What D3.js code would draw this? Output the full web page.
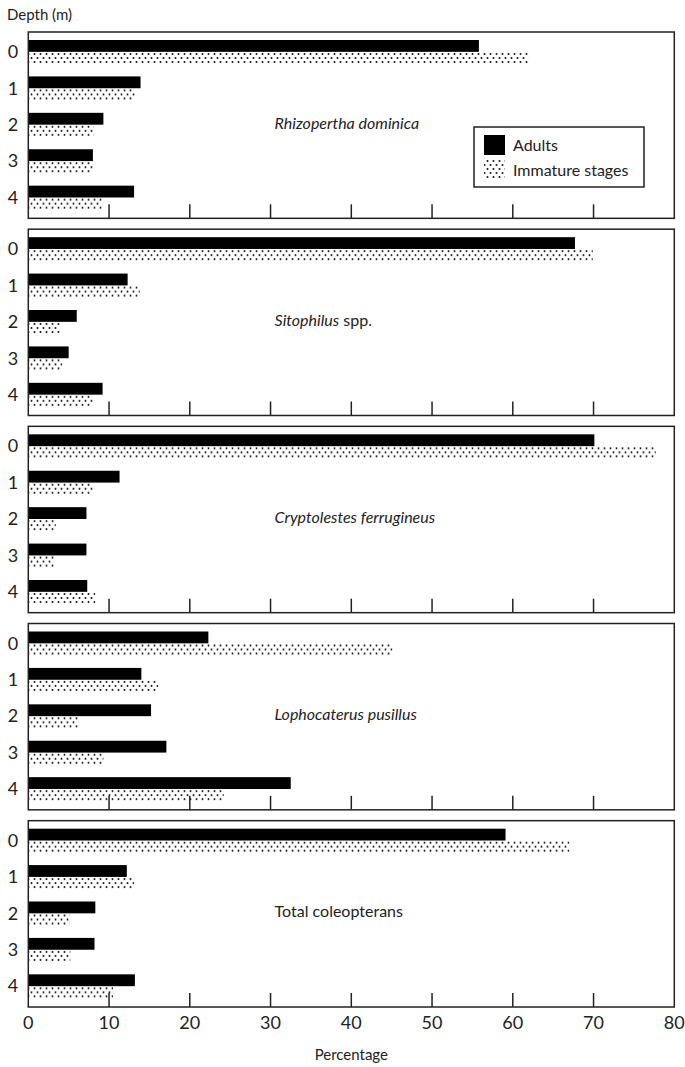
<!DOCTYPE html>
<html>
<head>
<meta charset="utf-8">
<script src="https://cdn.jsdelivr.net/npm/d3@7"></script>
<style>
    body { margin: 0; background: #fff; }
    svg { display: block; font-family: Lato, "Open Sans", sans-serif; }
</style>
</head>
<body>
<div id="chart"></div>
<script>
// depth rows, top to bottom inside each panel
const depths = ["0", "1", "2", "3", "4"];

// one panel per species; label parts are [text, italic]
const species = ["rhizopertha", "sitophilus", "cryptolestes", "lophocaterus", "total"];
const speciesLabels = [
    [["Rhizopertha dominica", true]],
    [["Sitophilus", true], [" spp.", false]],
    [["Cryptolestes ferrugineus", true]],
    [["Lophocaterus pusillus", true]],
    [["Total coleopterans", false]]
];

// percentages, depth 0..4
const adults = [
    [55.8, 13.9, 9.3, 8.0, 13.1],
    [67.7, 12.3, 6.0, 5.0, 9.2],
    [70.1, 11.3, 7.2, 7.2, 7.3],
    [22.3, 14.0, 15.2, 17.1, 32.5],
    [59.1, 12.2, 8.3, 8.2, 13.2]
];
const immature = [
    [61.9, 13.2, 8.1, 8.0, 9.1],
    [69.9, 13.8, 3.9, 4.2, 8.0],
    [77.7, 8.0, 3.4, 3.2, 8.3],
    [45.1, 16.1, 6.2, 9.3, 24.2],
    [67.0, 13.1, 5.1, 5.2, 10.5]
];

const xTicks = [0, 10, 20, 30, 40, 50, 60, 70, 80];
const seriesKeys = ["adults", "immature"];
const seriesLabels = ["Adults", "Immature stages"];

const width = 685;
const height = 1067;

const svg = d3.select("#chart")
    .append("svg")
    .attr("width", width)
    .attr("height", height);

// stipple fill for immature stages
const pattern = svg.append("defs")
    .append("pattern")
    .attr("id", "stipple")
    .attr("patternUnits", "userSpaceOnUse")
    .attr("width", 6)
    .attr("height", 8);
pattern.append("circle").attr("cx", 1.5).attr("cy", 2).attr("r", 1).attr("fill", "#111");
pattern.append("circle").attr("cx", 4.5).attr("cy", 6).attr("r", 1).attr("fill", "#111");

const fills = { adults: "#000", immature: "url(#stipple)" };

const x = d3.scaleLinear()
    .domain([0, 80])
    .range([28.3, 674.3]);

const panelY = d3.scaleBand()
    .domain(species)
    .range([32, 1007])
    .paddingInner(0.055);

svg.append("text")
    .attr("x", 7)
    .attr("y", 15)
    .attr("dy", "0.35em")
    .style("font-size", "15px")
    .attr("fill", "#222")
    .text("Depth (m)");

species.forEach((sp, i) => {
    const top = panelY(sp);
    const bottom = top + panelY.bandwidth();
    const g = svg.append("g");

    const y = d3.scaleBand()
        .domain(depths)
        .range([top + 8, bottom - 9])
        .paddingInner(0.35);

    const ySub = d3.scaleBand()
        .domain(seriesKeys)
        .range([0, y.bandwidth()]);

    const rows = depths.map((d, j) => ({ depth: d, adults: adults[i][j], immature: immature[i][j] }));

    g.append("g")
        .selectAll("g")
        .data(rows)
        .enter()
        .append("g")
        .attr("transform", d => `translate(0,${y(d.depth)})`)
        .selectAll("rect")
        .data(d => seriesKeys.map(k => ({ key: k, value: d[k] })))
        .enter()
        .append("rect")
        .attr("x", x(0))
        .attr("y", d => ySub(d.key))
        .attr("width", d => x(d.value) - x(0))
        .attr("height", ySub.bandwidth())
        .attr("fill", d => fills[d.key]);

    // depth labels
    g.selectAll(".depth")
        .data(depths)
        .enter()
        .append("text")
        .attr("x", 13)
        .attr("y", d => y(d) + y.bandwidth() / 2)
        .attr("dy", "0.35em")
        .attr("text-anchor", "middle")
        .style("font-size", "18px")
        .attr("fill", "#222")
        .text(d => d);

    // inner ticks along the bottom edge
    g.selectAll(".tick")
        .data(xTicks.slice(1, -1))
        .enter()
        .append("line")
        .attr("x1", d => x(d))
        .attr("x2", d => x(d))
        .attr("y1", bottom)
        .attr("y2", bottom - 14)
        .attr("stroke", "#222")
        .attr("stroke-width", 1.5);

    // panel frame
    g.append("rect")
        .attr("x", x(0))
        .attr("y", top)
        .attr("width", x(80) - x(0))
        .attr("height", bottom - top)
        .attr("fill", "none")
        .attr("stroke", "#222")
        .attr("stroke-width", 1.5);

    const label = g.append("text")
        .attr("x", x(30.5))
        .attr("y", top + 91)
        .attr("dy", "0.35em")
        .style("font-size", "16px")
        .attr("fill", "#222");
    speciesLabels[i].forEach(part => {
        label.append("tspan")
            .style("font-style", part[1] ? "italic" : "normal")
            .attr("xml:space", "preserve")
            .text(part[0]);
    });

    if (i === 0) {
        const legend = g.append("g")
            .attr("transform", `translate(474,${top + 95})`);

        legend.append("rect")
            .attr("width", 170)
            .attr("height", 60)
            .attr("fill", "#fff")
            .attr("stroke", "#222")
            .attr("stroke-width", 1.5);

        seriesKeys.forEach((k, j) => {
            legend.append("rect")
                .attr("x", 10)
                .attr("y", 8 + j * 24)
                .attr("width", 21)
                .attr("height", 20)
                .attr("fill", fills[k]);

            legend.append("text")
                .attr("x", 39)
                .attr("y", 18 + j * 25)
                .attr("dy", "0.35em")
                .style("font-size", "16px")
                .attr("fill", "#222")
                .text(seriesLabels[j]);
        });
    }

    if (i === species.length - 1) {
        g.selectAll(".tickLabel")
            .data(xTicks)
            .enter()
            .append("text")
            .attr("x", d => x(d))
            .attr("y", bottom + 16)
            .attr("dy", "0.35em")
            .attr("text-anchor", "middle")
            .style("font-size", "18px")
            .attr("fill", "#222")
            .text(d => d);

        g.append("text")
            .attr("x", (x(0) + x(80)) / 2)
            .attr("y", bottom + 48)
            .attr("dy", "0.35em")
            .attr("text-anchor", "middle")
            .style("font-size", "15px")
            .attr("fill", "#222")
            .text("Percentage");
    }
});
</script>
</body>
</html>
